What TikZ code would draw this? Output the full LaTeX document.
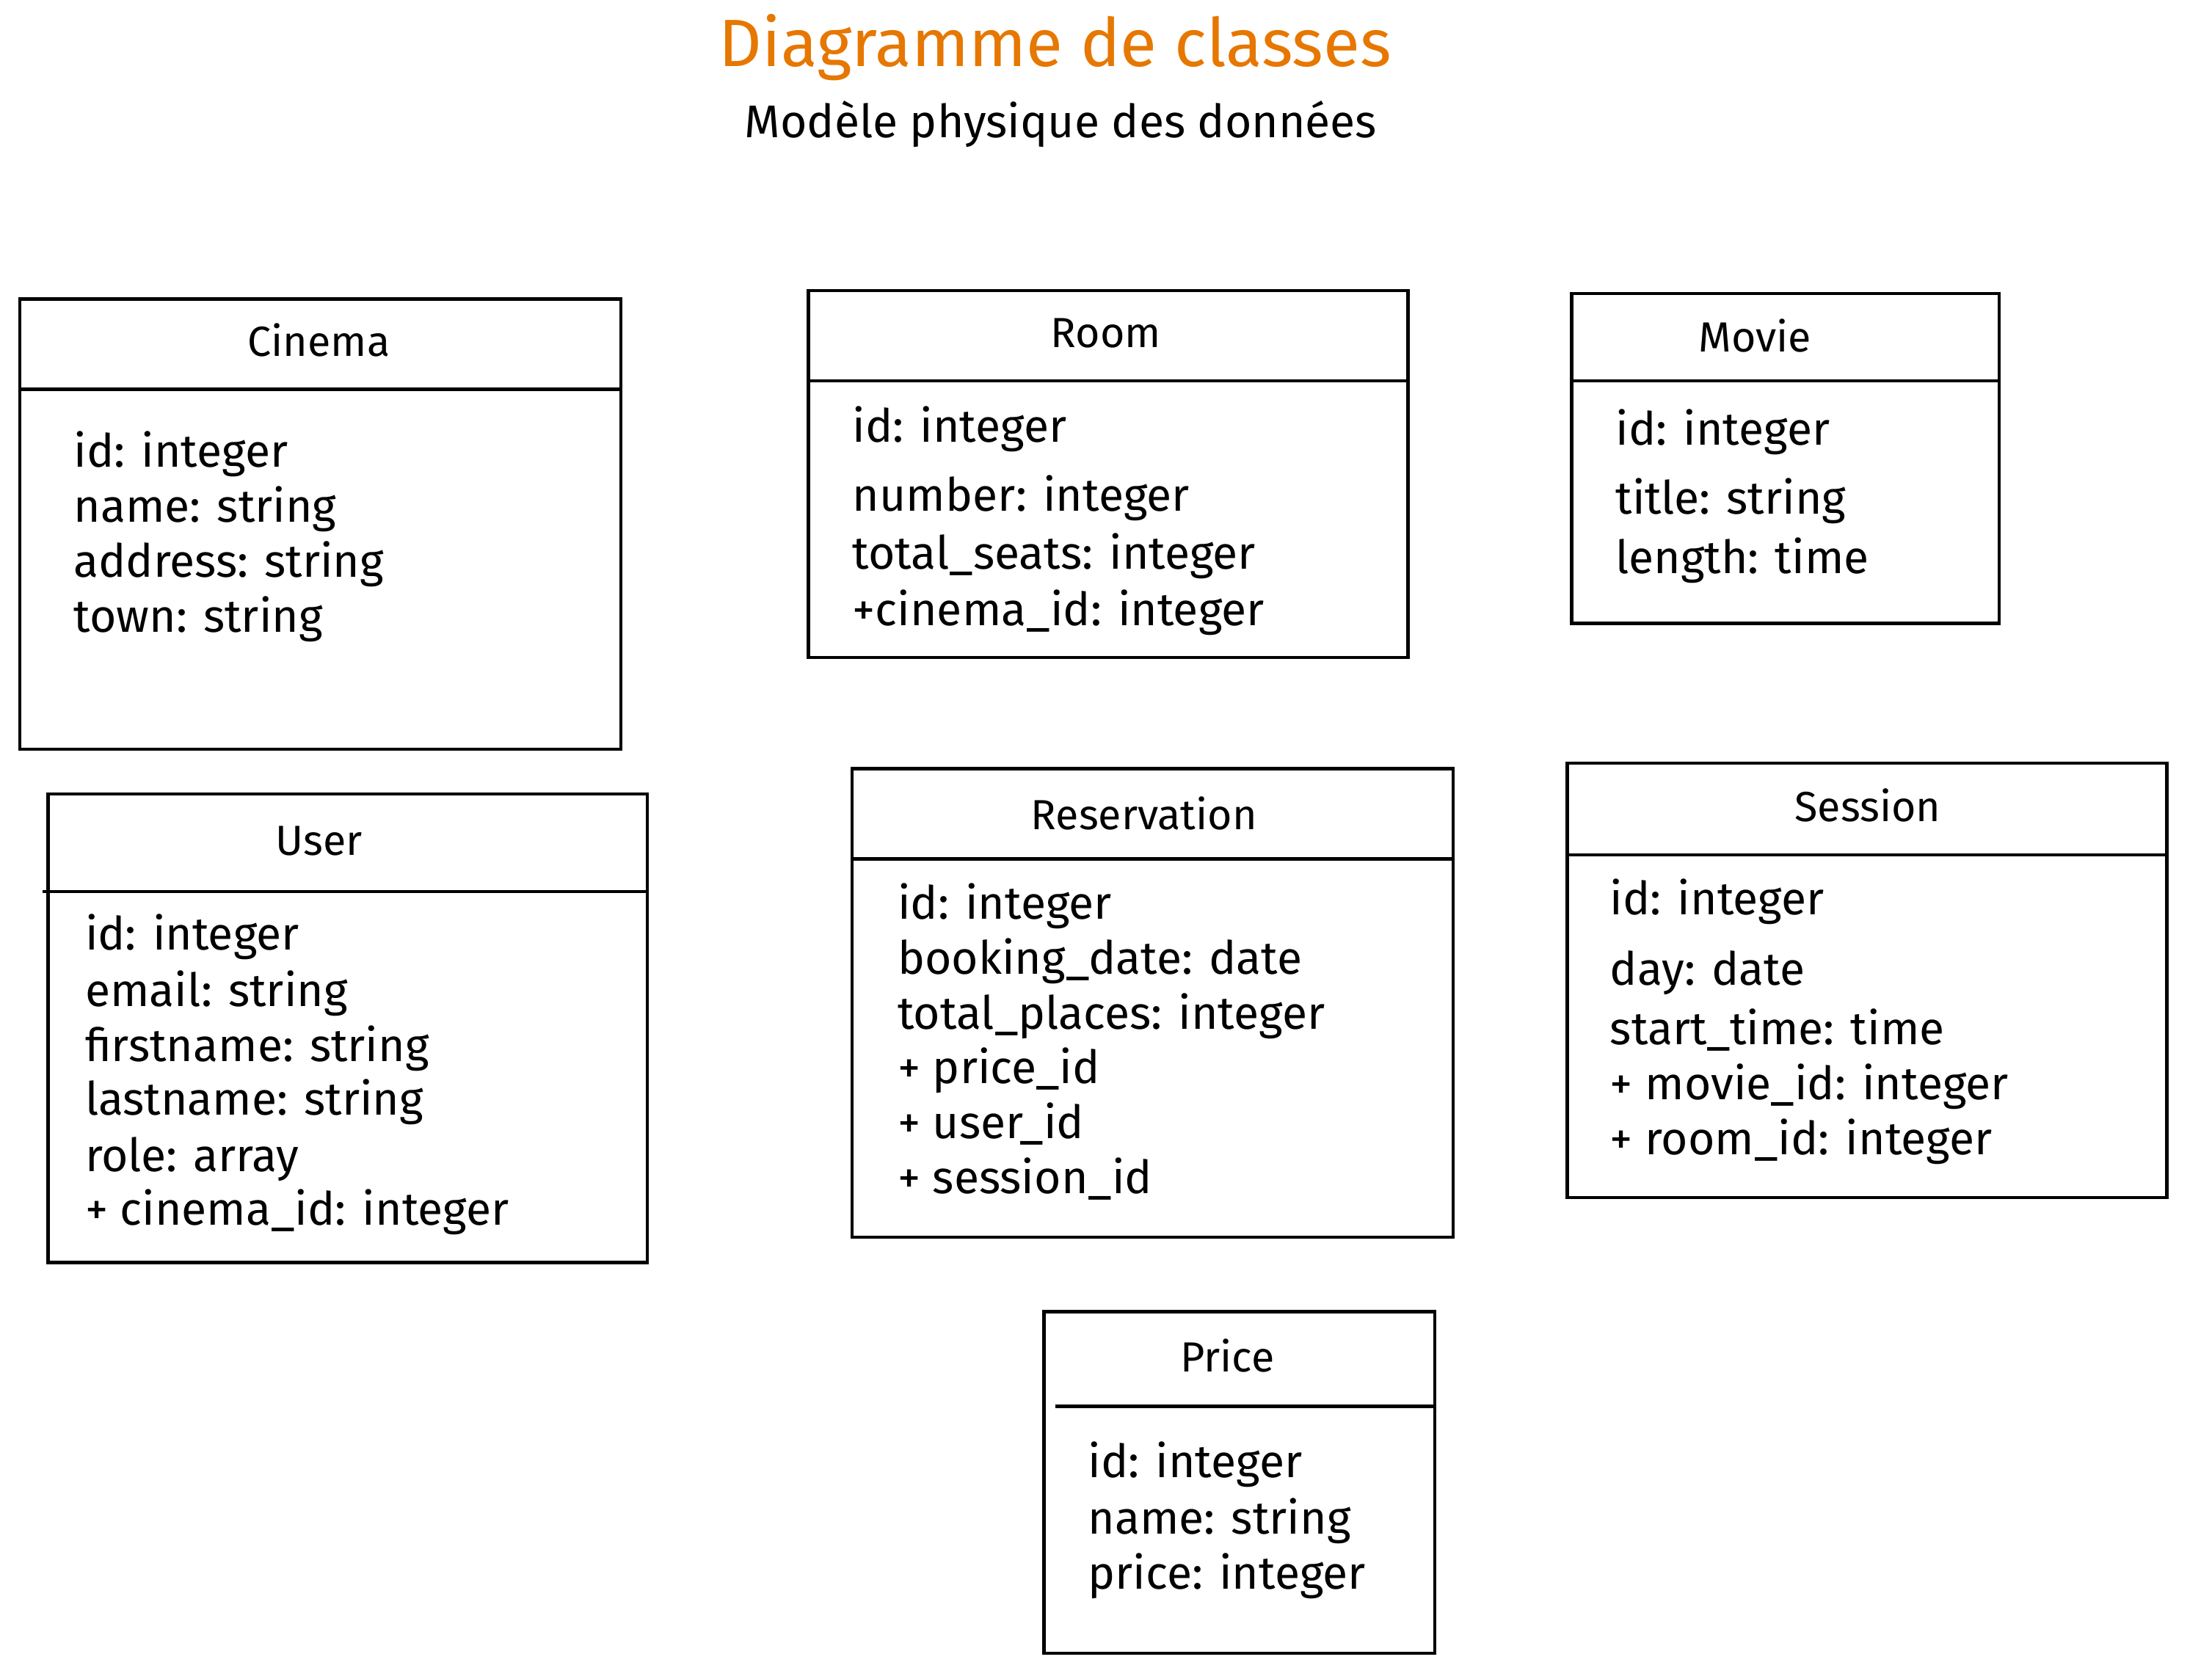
\documentclass[tikz,border=0pt]{standalone}
\usepackage{fontspec}
\setmainfont{Fira Sans}
\definecolor{exorange}{HTML}{E67700}
\begin{document}
\begin{tikzpicture}[x=0.02cm,y=-0.02cm,
  boxline/.style={line width=1.3pt,black},
  attr/.style={anchor=west,inner sep=0pt,yshift=-3.4pt,font=\fontsize{18.5}{22}\selectfont,text height=0.7em,text depth=0.2em},
  cls/.style={anchor=center,inner sep=0pt,yshift=-3.4pt,font=\fontsize{17}{20}\selectfont,text height=0.7em,text depth=0.2em},
  maintitle/.style={inner sep=0pt,yshift=-2pt,font=\fontsize{27}{31}\selectfont,text=exorange},
  subtitle/.style={inner sep=0pt,yshift=-1.2pt,font=\fontsize{18.5}{22}\selectfont}]
\useasboundingbox (0,0) rectangle (1568,1188);
\node[maintitle] (title) at (748,30) {Diagramme de classes};
\node[subtitle] (sub) at (752,86) {Modèle physique des données};
% Cinema
\coordinate (cinTL) at (14,212); \coordinate (cinBR) at (440,531);
\draw[boxline] (cinTL) rectangle (cinBR);
\draw[boxline] (cinTL |- 0,276) -- (cinBR |- 0,276);
\node[cls] (cinT) at (226,242) {Cinema};
\node[attr] (cin1) at (52,321) {id: integer};
\node[attr] (cin2) at (52,360) {name: string};
\node[attr] (cin3) at (52,399) {address: string};
\node[attr] (cin4) at (52,438) {town: string};
% Room
\coordinate (roomTL) at (573,206); \coordinate (roomBR) at (998,466);
\draw[boxline] (roomTL) rectangle (roomBR);
\draw[boxline] (roomTL |- 0,270) -- (roomBR |- 0,270);
\node[cls] (roomT) at (784,236) {Room};
\node[attr] (room1) at (604,303) {id: integer};
\node[attr] (room2) at (604,352) {number: integer};
\node[attr] (room3) at (604,393) {total\_seats: integer};
\node[attr] (room4) at (604,433) {+cinema\_id: integer};
% Movie
\coordinate (movTL) at (1114,208); \coordinate (movBR) at (1417,442);
\draw[boxline] (movTL) rectangle (movBR);
\draw[boxline] (movTL |- 0,270) -- (movBR |- 0,270);
\node[cls] (movT) at (1244,239) {Movie};
\node[attr] (mov1) at (1145,305) {id: integer};
\node[attr] (mov2) at (1145,354) {title: string};
\node[attr] (mov3) at (1145,396) {length: time};
% User
\coordinate (usrTL) at (34,563); \coordinate (usrBR) at (459,895);
\draw[boxline] (usrTL) rectangle (usrBR);
\draw[boxline] (30,632) -- (usrBR |- 0,632);
\node[cls] (usrT) at (226,596) {User};
\node[attr] (usr1) at (60,663) {id: integer};
\node[attr] (usr2) at (60,703) {email: string};
\node[attr] (usr3) at (60,742) {firstname: string};
\node[attr] (usr4) at (60,780) {lastname: string};
\node[attr] (usr5) at (60,820) {role: array};
\node[attr] (usr6) at (60,858) {+ cinema\_id: integer};
% Reservation
\coordinate (resTL) at (604,545); \coordinate (resBR) at (1030,877);
\draw[boxline] (resTL) rectangle (resBR);
\draw[boxline] (resTL |- 0,609) -- (resBR |- 0,609);
\node[cls] (resT) at (811,578) {Reservation};
\node[attr] (res1) at (636,641) {id: integer};
\node[attr] (res2) at (636,680) {booking\_date: date};
\node[attr] (res3) at (636,719) {total\_places: integer};
\node[attr] (res4) at (636,758) {+ price\_id};
\node[attr] (res5) at (636,797) {+ user\_id};
\node[attr] (res6) at (636,836) {+ session\_id};
% Session
\coordinate (sesTL) at (1111,541); \coordinate (sesBR) at (1536,849);
\draw[boxline] (sesTL) rectangle (sesBR);
\draw[boxline] (sesTL |- 0,606) -- (sesBR |- 0,606);
\node[cls] (sesT) at (1324,572) {Session};
\node[attr] (ses1) at (1141,638) {id: integer};
\node[attr] (ses2) at (1141,688) {day: date};
\node[attr] (ses3) at (1141,730) {start\_time: time};
\node[attr] (ses4) at (1141,769) {+ movie\_id: integer};
\node[attr] (ses5) at (1141,808) {+ room\_id: integer};
% Price
\coordinate (prTL) at (740,930); \coordinate (prBR) at (1017,1172);
\draw[boxline] (prTL) rectangle (prBR);
\draw[boxline] (748,997) -- (prBR |- 0,997);
\node[cls] (prT) at (870,962) {Price};
\node[attr] (pr1) at (771,1037) {id: integer};
\node[attr] (pr2) at (771,1077) {name: string};
\node[attr] (pr3) at (771,1116) {price: integer};
\end{tikzpicture}
\end{document}
